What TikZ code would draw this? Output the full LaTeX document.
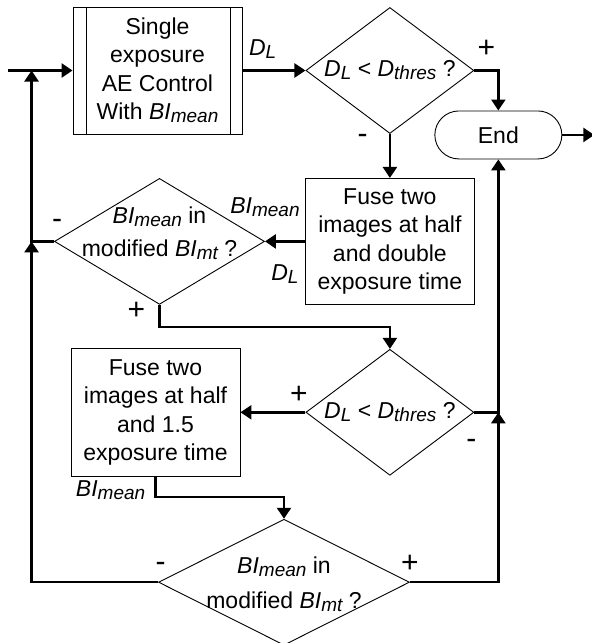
\documentclass[tikz,border=0pt]{standalone}
\usepackage{fontspec}
\setmainfont{Liberation Sans}
\usetikzlibrary{shapes.geometric,arrows.meta,positioning}

\newcommand{\vr}[2]{\textit{#1\raisebox{-3pt}{\fontsize{19}{19}\selectfont #2}}}

\begin{document}
\begin{tikzpicture}[
    x=1pt, y=1pt,
    node distance=40pt,
    every node/.style={font=\fontsize{23}{28.5}\selectfont},
    box/.style={draw, line width=0.9pt, minimum width=169pt, minimum height=127pt, align=center, inner sep=0pt},
    proc/.style={box, path picture={
        \draw[line width=0.9pt] ([xshift=13pt]path picture bounding box.north west) -- ([xshift=13pt]path picture bounding box.south west);
        \draw[line width=0.9pt] ([xshift=-12pt]path picture bounding box.north east) -- ([xshift=-12pt]path picture bounding box.south east);}},
    dec/.style={draw, diamond, line width=0.9pt, minimum width=168pt, minimum height=126pt, inner sep=0pt},
    term/.style={draw, line width=0.9pt, rounded corners=24pt, minimum width=127pt, minimum height=48pt},
    arrow/.style={line width=2.5pt, -{Triangle[width=14pt,length=11pt]}},
    lbl/.style={inner sep=0pt, text height=16pt, text depth=4pt},
    sgn/.style={lbl, font=\fontsize{30}{30}\selectfont}
]
\useasboundingbox (0,0) rectangle (592,-643);

\node (ae) [proc] at (157.5,-70.5) {Single\\exposure\\AE Control\\With \vr{BI}{mean}};
\node (d1) [dec, right=63pt of ae, label=center:{\vr{D}{L} < \vr{D}{thres} ?}] {};
\node (end) [term, below=40pt of d1.east, xshift=24pt] {End};
\node (fuse1) [box, minimum height=126pt, below=44pt of d1] {Fuse two\\images at half\\and double\\exposure time};
\node (d2) [dec, minimum width=210pt, left=40pt of fuse1,
    label={[align=center, yshift=8pt]center:{\vr{BI}{mean} in\\[4pt]modified \vr{BI}{mt} ?}}] {};
\node (d3) [dec, below=44pt of fuse1, label=center:{\vr{D}{L} < \vr{D}{thres} ?}] {};
\node (fuse2) [box, minimum height=128pt, left=65pt of d3] {Fuse two\\images at half\\and 1.5\\exposure time};
\node (d4) [dec, minimum width=251pt, below=42pt of fuse2, xshift=128.5pt,
    label={[align=center, yshift=-2pt]center:{\vr{BI}{mean} in\\[6pt]modified \vr{BI}{mt} ?}}] {};

\coordinate (in) at ([xshift=-65pt]ae.west);
\coordinate (join) at ([xshift=-41pt]ae.west);
\coordinate (exit) at ([xshift=32pt]end.east);

\draw [arrow] (in) -- (ae);
\draw [arrow] (ae) -- node[lbl, above=10pt, pos=0.32] {\vr{D}{L}} (d1);
\draw [arrow] (d1.east) -| node[sgn, above=8pt, pos=0.25] {+} (end.north);
\draw [arrow] (end) -- (exit);
\draw [arrow] (d1) -- node[sgn, left=21pt, pos=0.08] {-} (fuse1);

\draw [arrow] (fuse1) -- node[lbl, above=23pt, pos=1] {\vr{BI}{mean}} node[lbl, below=22pt] {\vr{D}{L}} (d2);
\draw [arrow] (d2.west) -| node[sgn, above=8pt, pos=0, xshift=3pt] {-} (join);
\draw [arrow] (d2.south) -- node[sgn, left=13pt, pos=0.39] {+} ++(0,-22pt) -| (d3.north);

\draw [arrow] (d3) -- node[sgn, above=4pt, pos=0, xshift=-6.5pt] {+} (fuse2);
\draw [arrow] (d3.east) -| node[sgn, below=19pt, pos=0, xshift=-3pt] {-} (end.south);
\draw [arrow] (fuse2.south) -- node[lbl, left=9pt, pos=0.7] {\vr{BI}{mean}} ++(0,-20pt) -| (d4.north);

\draw [arrow] (d4.west) -| node[sgn, above=5pt, pos=0, xshift=2.5pt] {-} (d2.west -| join);
\draw [arrow] (d4.east) -| node[sgn, above=4pt, pos=0] {+} (d3.east -| end.south);

\end{tikzpicture}
\end{document}
